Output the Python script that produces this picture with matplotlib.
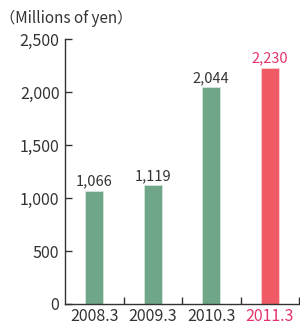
import matplotlib
matplotlib.use("Agg")
import matplotlib.pyplot as plt

categories = ["2008.3", "2009.3", "2010.3", "2011.3"]
values = [1066, 1119, 2044, 2230]
value_labels = ["1,066", "1,119", "2,044", "2,230"]
yticks = [0, 500, 1000, 1500, 2000, 2500]
ytick_labels = ["0", "500", "1,000", "1,500", "2,000", "2,500"]

green = "#6fa688"
red = "#f05a64"
red_text = "#e6336a"
text_c = "#333333"

plt.rcParams['font.family'] = ['Noto Sans CJK JP', 'DejaVu Sans']

fig = plt.figure(figsize=(3.0, 3.29), dpi=100)
ax = fig.add_axes([0.2167, 0.076, 0.78, 0.805])

colors = [green, green, green, red]
x = list(range(len(categories)))
ax.bar(x, values, width=0.3, color=colors, edgecolor=["#d5e6dc"]*3 + ["#fbd0d3"], linewidth=0.6)

for i, (v, lab) in enumerate(zip(values, value_labels)):
    ax.text(i, v + 25, lab, ha='center', va='bottom', fontsize=10.5,
            color=red_text if i == 3 else text_c)

ax.set_xlim(-0.5, 3.5)
ax.set_ylim(0, 2500)
ax.set_yticks(yticks)
ax.set_yticklabels(ytick_labels, fontsize=11.5, color=text_c)
ax.set_xticks(x)
ax.set_xticklabels(categories, fontsize=11.5, color=text_c)
ax.get_xticklabels()[3].set_color(red_text)
ax.tick_params(axis='x', length=0, pad=3)
ax.tick_params(axis='y', direction='in', length=5, width=1, color=text_c, pad=4)
ax.set_xticks([0.5, 1.5, 2.5, 3.5], minor=True)
ax.tick_params(axis='x', which='minor', direction='in', length=5, width=1, color=text_c)

for s in ['top', 'right']:
    ax.spines[s].set_visible(False)
for s in ['left', 'bottom']:
    ax.spines[s].set_color(text_c)
    ax.spines[s].set_linewidth(1)

fig.text(0.0, 0.945, "（Millions of yen）", fontsize=11, color=text_c, ha='left', va='center')

fig.savefig("out.png", dpi=100)
